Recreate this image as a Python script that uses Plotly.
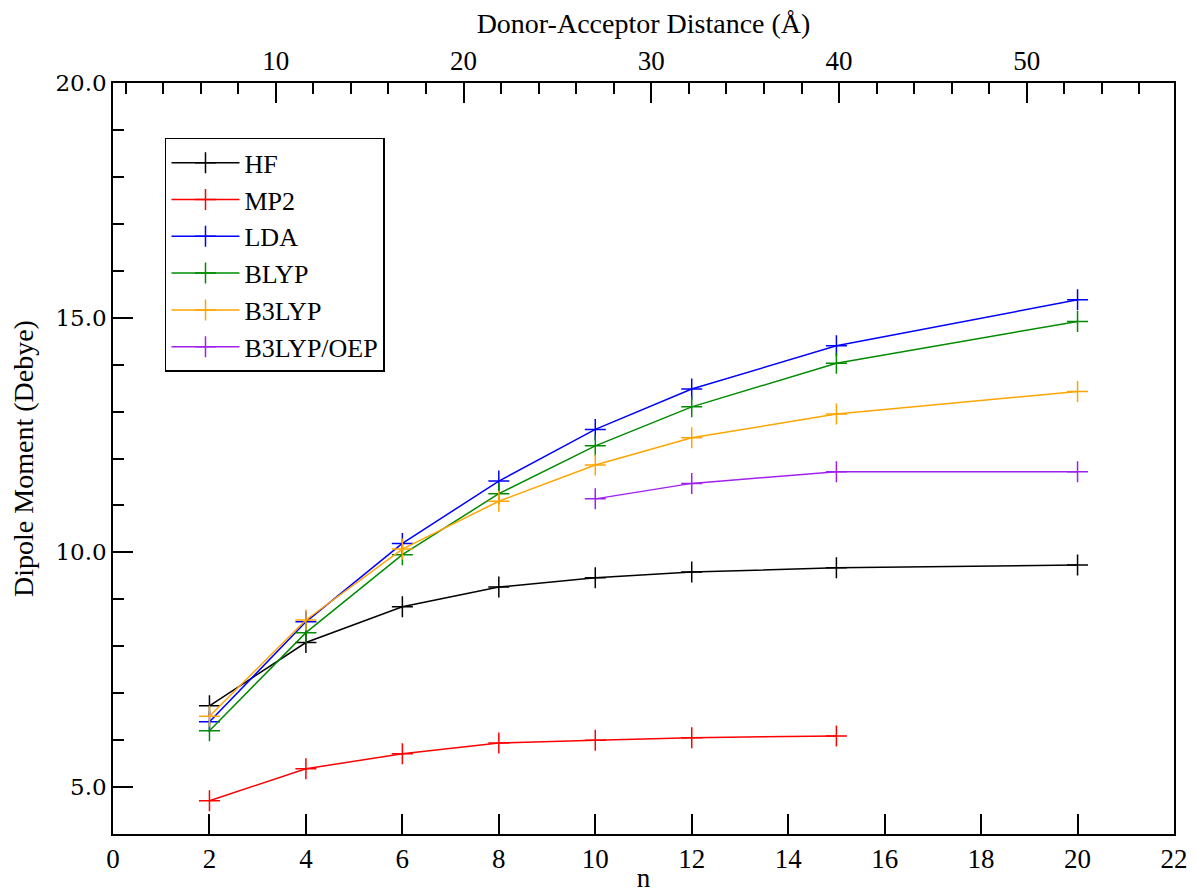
import plotly.graph_objects as go

# Data
n_full = [2, 4, 6, 8, 10, 12, 15, 20]
n_mp2 = [2, 4, 6, 8, 10, 12, 15]
n_oep = [10, 12, 15, 20]

hf = [6.73, 8.08, 8.84, 9.26, 9.46, 9.58, 9.67, 9.73]
mp2 = [4.71, 5.39, 5.71, 5.94, 6.00, 6.05, 6.09]
lda = [6.39, 8.52, 10.19, 11.52, 12.62, 13.48, 14.40, 15.38]
blyp = [6.20, 8.29, 9.95, 11.25, 12.27, 13.10, 14.03, 14.92]
b3lyp = [6.51, 8.56, 10.07, 11.09, 11.86, 12.44, 12.95, 13.43]
b3lyp_oep = [11.14, 11.47, 11.72, 11.72]

series = [
    ("HF", n_full, hf, "#000000"),
    ("MP2", n_mp2, mp2, "#ff0000"),
    ("LDA", n_full, lda, "#0000ff"),
    ("BLYP", n_full, blyp, "#008b00"),
    ("B3LYP", n_full, b3lyp, "#ffa500"),
    ("B3LYP/OEP", n_oep, b3lyp_oep, "#a020f0"),
]

# Top axis (donor-acceptor distance, Å) range aligned with n axis 0..22
dist_range = [1.33, 57.84]

SERIF = "Liberation Serif, Times New Roman, serif"

fig = go.Figure()
for name, xs, ys, col in series:
    fig.add_trace(go.Scatter(
        x=xs, y=ys, name=name, mode="lines+markers",
        line=dict(color=col, width=1.5),
        marker=dict(symbol="cross-thin", size=15, color=col,
                    line=dict(color=col, width=1.5)),
    ))

# invisible trace to activate top axis
fig.add_trace(go.Scatter(x=[None], y=[None], xaxis="x2", yaxis="y",
                         showlegend=False, hoverinfo="skip"))

fig.update_layout(
    width=1188, height=885,
    paper_bgcolor="white", plot_bgcolor="white",
    margin=dict(l=105, r=22, t=75, b=59, autoexpand=False),
    showlegend=True,
    legend=dict(
        x=0.049, y=0.927, xanchor="left", yanchor="top",
        bgcolor="white", bordercolor="black", borderwidth=1.5,
        font=dict(family=SERIF, size=26, color="black"),
        itemwidth=68, tracegroupgap=0,
    ),
    xaxis=dict(
        range=[0, 22], dtick=2, tick0=0,
        ticks="inside", ticklen=20, tickwidth=1.5, tickcolor="black",
        showline=True, linecolor="black", linewidth=1.5, mirror=False,
        showgrid=False, zeroline=False,
        tickfont=dict(family=SERIF, size=27, color="black"),
        title=dict(text="n", font=dict(family=SERIF, size=27, color="black"), standoff=0),
        automargin=False,
    ),
    xaxis2=dict(
        overlaying="x", side="top", anchor="y",
        range=dist_range, dtick=10, tick0=0,
        ticks="inside", ticklen=20, tickwidth=1.5, tickcolor="black",
        minor=dict(dtick=2, tick0=0, ticks="inside", ticklen=11, tickwidth=1.5, tickcolor="black"),
        showline=True, linecolor="black", linewidth=1.5,
        showgrid=False, zeroline=False,
        tickfont=dict(family=SERIF, size=27, color="black"),
        title=dict(text="Donor-Acceptor Distance (Å)", font=dict(family=SERIF, size=28, color="black"), standoff=8),
        automargin=False,
    ),
    yaxis=dict(
        range=[4, 20], dtick=5, tick0=0, tickformat=".1f",
        ticks="inside", ticklen=20, tickwidth=1.5, tickcolor="black",
        minor=dict(dtick=1, tick0=0, ticks="inside", ticklen=11, tickwidth=1.5, tickcolor="black"),
        showline=True, linecolor="black", linewidth=1.5, mirror=True,
        showgrid=False, zeroline=False,
        tickfont=dict(family="DejaVu Serif, serif", size=23, color="black"),
        title=dict(text="Dipole Moment (Debye)", font=dict(family=SERIF, size=28, color="black"), standoff=19),
        automargin=False,
    ),
)

fig.write_html("out.html")
